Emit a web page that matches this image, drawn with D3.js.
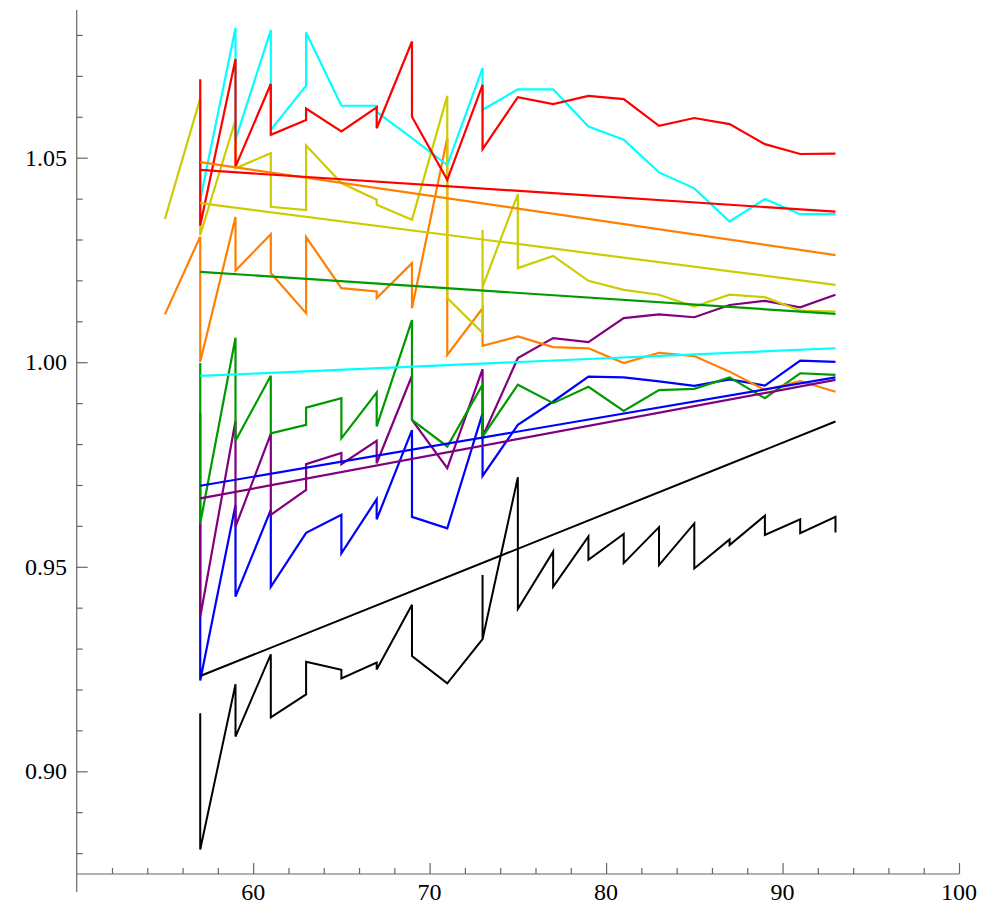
<!DOCTYPE html>
<html>
<head>
<meta charset="utf-8">
<script src="https://cdn.jsdelivr.net/npm/d3@7"></script>
<style>
  html, body { margin: 0; padding: 0; background: #fff; }
  svg { display: block; }
  svg text { font-family: "Liberation Serif", "DejaVu Serif", "Times New Roman", serif !important; font-size: 24px !important; }
</style>
</head>
<body>
<svg id="chart" width="982" height="907" font-family="Liberation Serif" font-size="24"></svg>
<script>
// ---- Data ----
const redX = [57,57,59,59,61,61,63,63,65,67,67,69,69,71,73,73,75,77,79,81,83,85,87,89,91,93];
const redY = [1.0692,1.0334,1.0741,1.0478,1.0680,1.0556,1.0592,1.0620,1.0564,1.0623,1.0572,1.0784,1.0600,1.0446,1.0678,1.0521,1.0648,1.0631,1.0651,1.0643,1.0578,1.0597,1.0582,1.0533,1.0509,1.0510];

const cyanX = [57,59,59,61,61,63,63,65,67,67,69,71,73,73,75,77,79,81,83,85,87,89,91,93];
const cyanY = [1.0397,1.0817,1.0544,1.0812,1.0568,1.0676,1.0806,1.0627,1.0627,1.0612,1.0548,1.0482,1.0719,1.0617,1.0667,1.0667,1.0576,1.0544,1.0464,1.0425,1.0344,1.0399,1.0362,1.0362];

const yellowX = [55,57,57,59,59,61,61,63,63,65,67,67,69,71,71,73,73,73,75,75,77,79,81,83,85,87,89,91,93];
const yellowY = [1.0350,1.0645,1.0311,1.0592,1.0474,1.0511,1.0380,1.0372,1.0530,1.0438,1.0397,1.0385,1.0348,1.0651,1.0157,1.0072,1.0323,1.0184,1.0411,1.0230,1.0260,1.0199,1.0177,1.0165,1.0136,1.0165,1.0159,1.0126,1.0124];

const orangeX = [55,57,57,59,59,61,61,63,63,65,67,67,69,69,71,71,73,73,75,77,79,81,83,85,87,89,91,93];
const orangeY = [1.0117,1.0307,1.0001,1.0355,1.0224,1.0313,1.0218,1.0120,1.0306,1.0181,1.0173,1.0157,1.0242,1.0132,1.0548,1.0018,1.0132,1.0040,1.0063,1.0037,1.0034,0.9998,1.0023,1.0015,0.9977,0.9932,0.9954,0.9928];

const greenX = [57,57,59,59,61,61,63,63,65,65,67,67,69,69,71,73,73,75,77,79,81,83,85,87,89,91,93];
const greenY = [0.9998,0.9606,1.0060,0.9808,0.9967,0.9826,0.9847,0.9889,0.9912,0.9814,0.9926,0.9843,1.0103,0.9859,0.9794,0.9945,0.9818,0.9945,0.9900,0.9940,0.9881,0.9932,0.9935,0.9963,0.9912,0.9973,0.9969];

const purpleX = [57,57,59,59,61,61,63,63,65,65,67,67,69,69,71,73,73,75,77,79,81,83,85,87,89,91,93];
const purpleY = [0.9876,0.9377,0.9857,0.9598,0.9825,0.9627,0.9688,0.9751,0.9778,0.9751,0.9808,0.9753,0.9967,0.9859,0.9741,0.9983,0.9818,1.0010,1.0059,1.0049,1.0108,1.0117,1.0110,1.0140,1.0150,1.0134,1.0165];

const blueX = [57,57,59,59,61,61,63,65,65,67,67,69,69,71,73,73,75,77,79,81,83,85,87,89,91,93];
const blueY = [0.9606,0.9222,0.9651,0.9427,0.9639,0.9451,0.9583,0.9627,0.9533,0.9665,0.9616,0.9834,0.9622,0.9594,0.9875,0.9722,0.9847,0.9904,0.9965,0.9963,0.9953,0.9942,0.9958,0.9943,1.0004,1.0001];

const blackX = [57,57,59,59,61,61,63,63,65,65,67,67,69,69,71,73,73,73,75,75,77,77,79,79,81,81,83,83,85,85,87,87,89,89,91,91,93,93];
const blackY = [0.9142,0.8809,0.9213,0.9085,0.9286,0.9132,0.9188,0.9268,0.9248,0.9227,0.9266,0.9249,0.9407,0.9282,0.9215,0.9323,0.9480,0.9323,0.9719,0.9397,0.9537,0.9451,0.9574,0.9517,0.9580,0.9509,0.9597,0.9504,0.9606,0.9496,0.9567,0.9553,0.9625,0.9578,0.9616,0.9582,0.9622,0.9584];

// straight fit lines
const fitX = [57, 93];
const redFit = [1.0470, 1.0368];
const orangeFit = [1.0489, 1.0262];
const yellowFit = [1.0389, 1.0189];
const greenFit = [1.0221, 1.0118];
const cyanFit = [0.99665, 1.00342];
const blueFit = [0.9698, 0.9963];
const purpleFit = [0.9667, 0.9957];
const blackFit = [0.9233, 0.9855];

const xMajorTicks = [60, 70, 80, 90, 100];
const yMajorTicks = [0.90, 0.95, 1.00, 1.05];

// ---- Chart ----
const svg = d3.select("#chart");
const x = d3.scaleLinear().domain([50, 100]).range([76.7, 959]);
const y = d3.scaleLinear().domain([0.8749, 1.0861]).range([874, 10]);

const colors = {
  black: "#000000", blue: "#0000ff", purple: "#800080", green: "#009a00",
  orange: "#ff8000", yellow: "#cccc00", cyan: "#00ffff", red: "#ff0000"
};

const series = [
  {c: colors.black, xs: blackX, ys: blackY, w: 2},
  {c: colors.blue, xs: blueX, ys: blueY, w: 2.2},
  {c: colors.purple, xs: purpleX, ys: purpleY, w: 2.2},
  {c: colors.green, xs: greenX, ys: greenY, w: 2.2},
  {c: colors.orange, xs: orangeX, ys: orangeY, w: 2.2},
  {c: colors.yellow, xs: yellowX, ys: yellowY, w: 2.2},
  {c: colors.cyan, xs: cyanX, ys: cyanY, w: 2.2},
  {c: colors.red, xs: redX, ys: redY, w: 2.2}
];
const fits = [
  {c: colors.black, ys: blackFit, w: 2},
  {c: colors.blue, ys: blueFit, w: 2.2},
  {c: colors.purple, ys: purpleFit, w: 2.2},
  {c: colors.green, ys: greenFit, w: 2.2},
  {c: colors.orange, ys: orangeFit, w: 2.2},
  {c: colors.yellow, ys: yellowFit, w: 2.2},
  {c: colors.cyan, ys: cyanFit, w: 2.2},
  {c: colors.red, ys: redFit, w: 2.2}
];

const line = d3.line().x(d => x(d[0])).y(d => y(d[1]));
const FONT = "Liberation Serif";

function styleAxis(g) {
  g.attr("font-family", null).attr("font-size", null);
  g.selectAll("line").attr("stroke", "#666").attr("stroke-width", 1.2);
  g.selectAll("path").attr("stroke", "#666").attr("stroke-width", 1.2);
  g.selectAll("text").remove();
}

// axes (tick marks)
const gx = svg.append("g").attr("transform", `translate(0,${y(0.8749)})`);
gx.call(d3.axisBottom(x).tickValues(d3.range(52, 100, 2).filter(v => v % 10 !== 0)).tickSize(-6).tickFormat(""));
gx.select(".domain").remove();
styleAxis(gx);
const gx2 = svg.append("g").attr("transform", `translate(0,${y(0.8749)})`);
gx2.call(d3.axisBottom(x).tickValues(xMajorTicks).tickSize(-11).tickFormat(d3.format("d")).tickSizeOuter(0));
gx2.select(".domain").attr("d", `M${x(50)},0H${x(100)}`);
styleAxis(gx2);

const gy = svg.append("g").attr("transform", `translate(${x(50)},0)`);
gy.call(d3.axisLeft(y).tickValues(d3.range(0.88, 1.085, 0.01).filter(v => Math.abs(v*100 - Math.round(v*20)*5) > 0.01)).tickSize(-6).tickFormat(""));
gy.select(".domain").remove();
styleAxis(gy);
const gy2 = svg.append("g").attr("transform", `translate(${x(50)},0)`);
gy2.call(d3.axisLeft(y).tickValues(yMajorTicks).tickSize(-11).tickFormat(d3.format(".2f")).tickSizeOuter(0));
gy2.select(".domain").attr("d", `M0,${y(1.0861)}V892`);
styleAxis(gy2);

// tick labels as plain text elements
const fmtX = d3.format("d"), fmtY = d3.format(".2f");
svg.append("g").selectAll("text").data(xMajorTicks).join("text")
  .attr("x", d => x(d)).attr("y", 900)
  .attr("text-anchor", "middle")
  .attr("font-family", FONT).attr("font-size", "24px").attr("fill", "#000")
  .style("font-family", FONT).style("font-size", "24px")
  .text(d => fmtX(d));
svg.append("g").selectAll("text").data(yMajorTicks).join("text")
  .attr("x", 67).attr("y", d => y(d) + 8)
  .attr("text-anchor", "end")
  .attr("font-family", FONT).attr("font-size", "24px").attr("fill", "#000")
  .style("font-family", FONT).style("font-size", "24px")
  .text(d => fmtY(d));

// jagged series and fit lines
const gl = svg.append("g").attr("fill", "none").attr("stroke-linejoin", "miter").attr("stroke-miterlimit", 4);
series.forEach(s => {
  gl.append("path")
    .attr("d", line(s.xs.map((v, i) => [v, s.ys[i]])))
    .attr("stroke", s.c).attr("stroke-width", s.w);
});
fits.forEach(s => {
  gl.append("path")
    .attr("d", line(fitX.map((v, i) => [v, s.ys[i]])))
    .attr("stroke", s.c).attr("stroke-width", s.w);
});
</script>
</body>
</html>
